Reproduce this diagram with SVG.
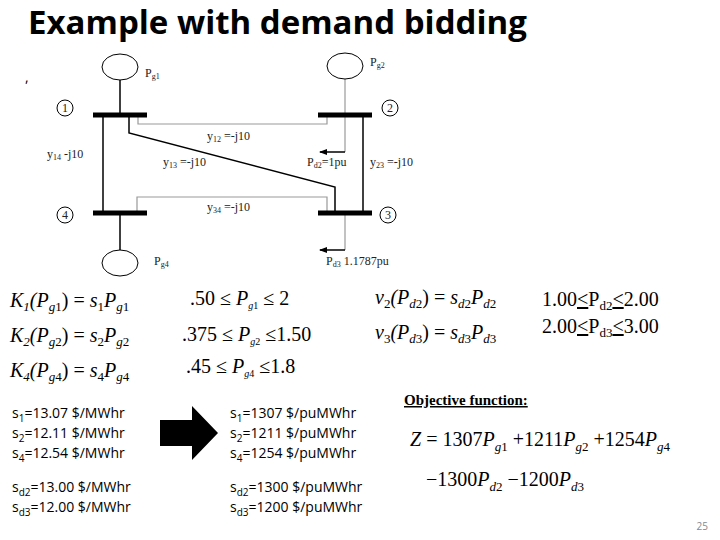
<svg xmlns="http://www.w3.org/2000/svg" width="720" height="540" viewBox="0 0 720 540">
<style>
.t{font-family:"Liberation Serif",serif;font-size:12px;fill:#222}
.m{font-family:"Liberation Serif",serif;font-size:20px;font-style:italic;fill:#000}
.c{font-family:"Liberation Serif",serif;font-size:20px;fill:#000}
.s{font-family:"Open Sans","DejaVu Sans",sans-serif;font-size:14px;fill:#000}
.bar{stroke:#000;stroke-width:5}
.ln{stroke:#000;stroke-width:1.5;fill:none}
.gl{stroke:#999;stroke-width:1.2;fill:none}
.gen{fill:#fff;stroke:#000;stroke-width:1}
</style>
<defs><marker id="ar" markerWidth="8" markerHeight="6" refX="7" refY="3" orient="auto" markerUnits="userSpaceOnUse"><path d="M0,0L8,3L0,6z" fill="#000"/></marker></defs>
<rect width="720" height="540" fill="#fff"/>
<text x="28" y="34" font-family="Open Sans,DejaVu Sans,sans-serif" font-size="33" font-weight="bold" fill="#000">Example with demand bidding</text>
<text x="25" y="82" class="s">,</text>
<g id="connectors">
<line x1="120" y1="80" x2="120" y2="115" class="ln" stroke-width="1"/>
<line x1="345" y1="78" x2="345" y2="152" class="gl"/>
<line x1="345" y1="152" x2="320" y2="152" class="ln" stroke-width="1" marker-end="url(#ar)"/>
<line x1="103" y1="115" x2="103" y2="213" class="ln"/>
<line x1="363" y1="115" x2="363" y2="213" class="ln"/>
<polyline points="138,115 138,124 327,124 327,115" class="gl"/>
<polyline points="129,115 129,133 335,187 335,213" class="ln" stroke-width="1.2"/>
<polyline points="137,213 137,197 327,197 327,213" class="gl"/>
<line x1="120" y1="213" x2="120" y2="250" class="ln" stroke-width="1"/>
<line x1="345" y1="213" x2="345" y2="250" class="gl"/>
<line x1="345" y1="250" x2="320" y2="250" class="ln" stroke-width="1" marker-end="url(#ar)"/>
</g>
<g id="gen1"><ellipse cx="120" cy="67" rx="18" ry="13" class="gen"/><text x="145" y="77" class="t">P<tspan font-size="8" dy="2">g1</tspan></text></g>
<g id="gen2"><ellipse cx="345" cy="66" rx="18" ry="13" class="gen"/><text x="370" y="66" class="t">P<tspan font-size="8" dy="2">g2</tspan></text></g>
<g id="gen4"><ellipse cx="120" cy="263" rx="18" ry="13" class="gen"/><text x="154" y="265" class="t">P<tspan font-size="8" dy="2">g4</tspan></text></g>
<g id="bus1"><line x1="93" y1="115" x2="147" y2="115" class="bar"/><circle cx="65" cy="108" r="8" class="gen"/><text x="65" y="112" class="t" text-anchor="middle">1</text></g>
<g id="bus2"><line x1="318" y1="115" x2="372" y2="115" class="bar"/><circle cx="390" cy="108" r="8" class="gen"/><text x="390" y="112" class="t" text-anchor="middle">2</text></g>
<g id="bus3"><line x1="318" y1="213" x2="372" y2="213" class="bar"/><circle cx="388" cy="215" r="8" class="gen"/><text x="388" y="219" class="t" text-anchor="middle">3</text></g>
<g id="bus4"><line x1="93" y1="213" x2="147" y2="213" class="bar"/><circle cx="65" cy="215" r="8" class="gen"/><text x="65" y="219" class="t" text-anchor="middle">4</text></g>
<g id="labels">
<text x="207" y="140" class="t">y<tspan font-size="8" dy="2">12</tspan><tspan dy="-2"> =-j10</tspan></text>
<text x="47" y="158" class="t">y<tspan font-size="8" dy="2">14</tspan><tspan dy="-2">   -j10</tspan></text>
<text x="163" y="166" class="t">y<tspan font-size="8" dy="2">13</tspan><tspan dy="-2"> =-j10</tspan></text>
<text x="307" y="166" class="t">P<tspan font-size="8" dy="2">d2</tspan><tspan dy="-2">=1pu</tspan></text>
<text x="370" y="166" class="t">y<tspan font-size="8" dy="2">23</tspan><tspan dy="-2"> =-j10</tspan></text>
<text x="207" y="211" class="t">y<tspan font-size="8" dy="2">34</tspan><tspan dy="-2"> =-j10</tspan></text>
<text x="326" y="265" class="t">P<tspan font-size="8" dy="2">d3</tspan><tspan dy="-2">  1.1787pu</tspan></text>
</g>
<g id="eqs">
<text x="10" y="307" class="m">K<tspan font-size="13" dy="4">1</tspan><tspan dy="-4">(P</tspan><tspan font-size="13" dy="4">g</tspan><tspan font-size="13" font-style="normal">1</tspan><tspan dy="-4" font-style="normal">) = </tspan>s<tspan font-size="13" dy="4" font-style="normal">1</tspan><tspan dy="-4">P</tspan><tspan font-size="13" dy="4">g</tspan><tspan font-size="13" font-style="normal">1</tspan></text>
<text x="10" y="342" class="m">K<tspan font-size="13" dy="4">2</tspan><tspan dy="-4">(P</tspan><tspan font-size="13" dy="4">g</tspan><tspan font-size="13" font-style="normal">2</tspan><tspan dy="-4" font-style="normal">) = </tspan>s<tspan font-size="13" dy="4" font-style="normal">2</tspan><tspan dy="-4">P</tspan><tspan font-size="13" dy="4">g</tspan><tspan font-size="13" font-style="normal">2</tspan></text>
<text x="10" y="377" class="m">K<tspan font-size="13" dy="4">4</tspan><tspan dy="-4">(P</tspan><tspan font-size="13" dy="4">g</tspan><tspan font-size="13" font-style="normal">4</tspan><tspan dy="-4" font-style="normal">) = </tspan>s<tspan font-size="13" dy="4" font-style="normal">4</tspan><tspan dy="-4">P</tspan><tspan font-size="13" dy="4">g</tspan><tspan font-size="13" font-style="normal">4</tspan></text>
<text x="190" y="305" class="m" font-size="16"><tspan font-style="normal">.50 ≤ </tspan>P<tspan font-size="10" dy="4">g</tspan><tspan font-size="10" font-style="normal">1</tspan><tspan dy="-4" font-style="normal"> ≤ 2</tspan></text>
<text x="182" y="341" class="m" font-size="16"><tspan font-style="normal">.375 ≤ </tspan>P<tspan font-size="10" dy="4">g</tspan><tspan font-size="10" font-style="normal">2</tspan><tspan dy="-4" font-style="normal"> ≤1.50</tspan></text>
<text x="186" y="373" class="m" font-size="16"><tspan font-style="normal">.45 ≤ </tspan>P<tspan font-size="10" dy="4">g</tspan><tspan font-size="10" font-style="normal">4</tspan><tspan dy="-4" font-style="normal"> ≤1.8</tspan></text>
<text x="375" y="304" class="m">v<tspan font-size="13" dy="4" font-style="normal">2</tspan><tspan dy="-4">(P</tspan><tspan font-size="13" dy="4">d</tspan><tspan font-size="13" font-style="normal">2</tspan><tspan dy="-4" font-style="normal">) = </tspan>s<tspan font-size="13" dy="4">d</tspan><tspan font-size="13" font-style="normal">2</tspan><tspan dy="-4">P</tspan><tspan font-size="13" dy="4">d</tspan><tspan font-size="13" font-style="normal">2</tspan></text>
<text x="375" y="339" class="m">v<tspan font-size="13" dy="4" font-style="normal">3</tspan><tspan dy="-4">(P</tspan><tspan font-size="13" dy="4">d</tspan><tspan font-size="13" font-style="normal">3</tspan><tspan dy="-4" font-style="normal">) = </tspan>s<tspan font-size="13" dy="4">d</tspan><tspan font-size="13" font-style="normal">3</tspan><tspan dy="-4">P</tspan><tspan font-size="13" dy="4">d</tspan><tspan font-size="13" font-style="normal">3</tspan></text>
<text x="542" y="306" class="c">1.00<tspan text-decoration="underline">&lt;</tspan>P<tspan font-size="13" dy="4">d2</tspan><tspan dy="-4" text-decoration="underline">&lt;</tspan>2.00</text>
<text x="542" y="333" class="c">2.00<tspan text-decoration="underline">&lt;</tspan>P<tspan font-size="13" dy="4">d3</tspan><tspan dy="-4" text-decoration="underline">&lt;</tspan>3.00</text>
</g>
<g id="costs">
<text x="12" y="418" class="s">s<tspan font-size="10" dy="4">1</tspan><tspan dy="-4">=13.07 $/MWhr</tspan></text>
<text x="12" y="438" class="s">s<tspan font-size="10" dy="4">2</tspan><tspan dy="-4">=12.11 $/MWhr</tspan></text>
<text x="12" y="458" class="s">s<tspan font-size="10" dy="4">4</tspan><tspan dy="-4">=12.54 $/MWhr</tspan></text>
<text x="12" y="492" class="s">s<tspan font-size="10" dy="4">d2</tspan><tspan dy="-4">=13.00 $/MWhr</tspan></text>
<text x="12" y="512" class="s">s<tspan font-size="10" dy="4">d3</tspan><tspan dy="-4">=12.00 $/MWhr</tspan></text>
<path d="M160,420 H192 V406 L218,433 L192,460 V446 H160 Z" fill="#000"/>
<text x="230" y="418" class="s">s<tspan font-size="10" dy="4">1</tspan><tspan dy="-4">=1307 $/puMWhr</tspan></text>
<text x="230" y="438" class="s">s<tspan font-size="10" dy="4">2</tspan><tspan dy="-4">=1211 $/puMWhr</tspan></text>
<text x="230" y="458" class="s">s<tspan font-size="10" dy="4">4</tspan><tspan dy="-4">=1254 $/puMWhr</tspan></text>
<text x="230" y="492" class="s">s<tspan font-size="10" dy="4">d2</tspan><tspan dy="-4">=1300 $/puMWhr</tspan></text>
<text x="230" y="512" class="s">s<tspan font-size="10" dy="4">d3</tspan><tspan dy="-4">=1200 $/puMWhr</tspan></text>
</g>
<g id="objective">
<text x="404" y="405" font-family="Liberation Serif,serif" font-size="15" font-weight="bold" text-decoration="underline">Objective function:</text>
<text x="410" y="446" class="m" font-size="22">Z<tspan font-style="normal"> = 1307</tspan>P<tspan font-size="13" dy="5">g</tspan><tspan font-size="13" font-style="normal">1</tspan><tspan dy="-5" font-style="normal"> +1211</tspan>P<tspan font-size="13" dy="5">g</tspan><tspan font-size="13" font-style="normal">2</tspan><tspan dy="-5" font-style="normal"> +1254</tspan>P<tspan font-size="13" dy="5">g</tspan><tspan font-size="13" font-style="normal">4</tspan></text>
<text x="426" y="486" class="m" font-size="22"><tspan font-style="normal">−1300</tspan>P<tspan font-size="13" dy="5">d</tspan><tspan font-size="13" font-style="normal">2</tspan><tspan dy="-5" font-style="normal"> −1200</tspan>P<tspan font-size="13" dy="5">d</tspan><tspan font-size="13" font-style="normal">3</tspan></text>
</g>
<text x="708" y="530" font-family="Open Sans,sans-serif" font-size="10" fill="#888" text-anchor="end">25</text>
</svg>
